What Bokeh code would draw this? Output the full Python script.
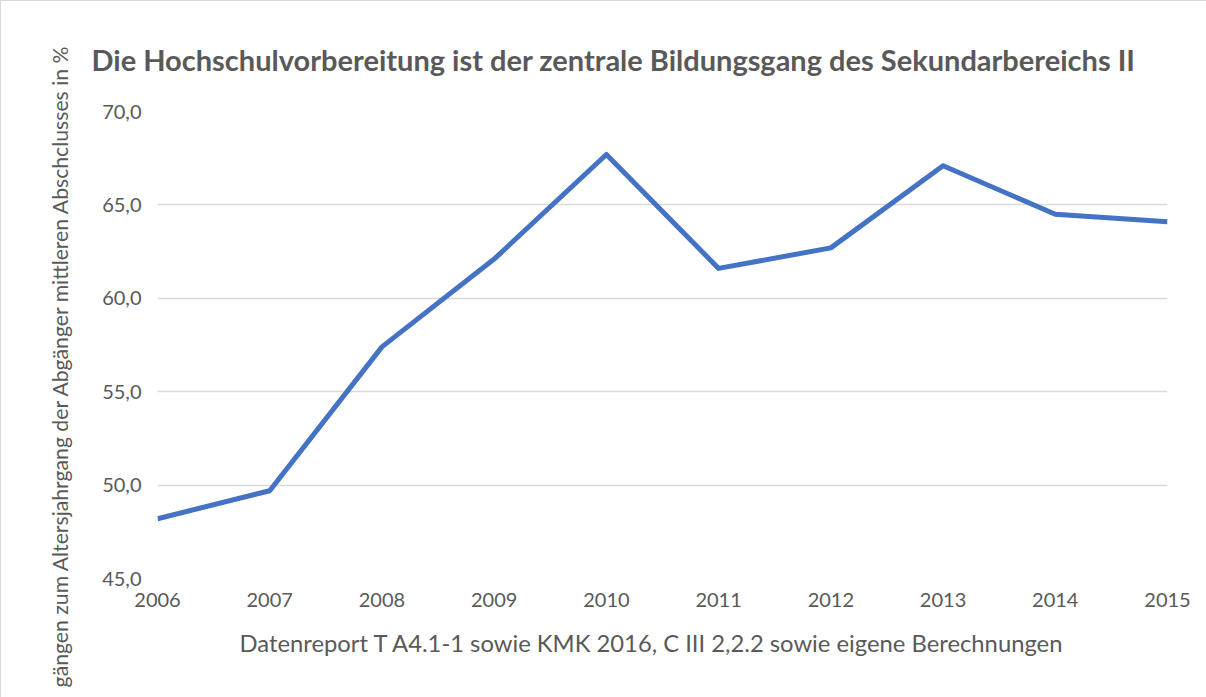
from bokeh.plotting import figure
from bokeh.models import Range1d, FixedTicker, CustomJSTickFormatter, Title
from bokeh.embed import file_html
from bokeh.resources import INLINE

years = [2006, 2007, 2008, 2009, 2010, 2011, 2012, 2013, 2014, 2015]
values = [48.2, 49.7, 57.4, 62.1, 67.7, 61.6, 62.7, 67.1, 64.5, 64.1]
y_ticks = [45, 50, 55, 60, 65, 70]

title_text = "Die Hochschulvorbereitung ist der zentrale Bildungsgang des Sekundarbereichs II"
x_label_text = "Datenreport T A4.1-1 sowie KMK 2016, C III 2,2.2 sowie eigene Berechnungen"
y_label_text = "gängen zum Altersjahrgang der Abgänger mittleren Abschclusses in %"

FONT = "Lato"
GREY = "#595959"

W, H = 1206, 697
p = figure(width=W, height=H, output_backend="svg", toolbar_location=None,
           x_range=Range1d(2006, 2015), y_range=Range1d(45, 70),
           min_border_left=156, min_border_right=W - 1166, min_border_top=110,
           min_border_bottom=H - 577, title=None)
p.styles = {"border-top": "1px solid #d9d9d9", "border-left": "1px solid #d9d9d9"}
p.outline_line_color = None
p.background_fill_color = "white"
p.border_fill_color = "white"

p.line(years, values, line_color="#4472C4", line_width=5, line_join="round", line_cap="butt")

for ax in (p.xaxis[0], p.yaxis[0]):
    ax.axis_line_color = None
    ax.major_tick_line_color = None
    ax.minor_tick_line_color = None
    ax.major_label_text_font = FONT
    ax.major_label_text_font_size = "20px"
    ax.major_label_text_color = GREY

p.xaxis.ticker = FixedTicker(ticks=years)
p.xaxis.major_label_standoff = 8
p.yaxis.ticker = FixedTicker(ticks=y_ticks)
p.yaxis.major_label_standoff = 10
p.yaxis.formatter = CustomJSTickFormatter(code="return tick.toFixed(1).replace('.', ',');")

p.xgrid.grid_line_color = None
p.ygrid.grid_line_color = "#d9d9d9"
p.ygrid.grid_line_width = 1.5

t = Title(text=title_text, align="left", offset=-66, standoff=70,
          text_font=FONT, text_font_size="29px", text_font_style="bold", text_color=GREY)
p.add_layout(t, "above")

xl = Title(text=x_label_text, align="left", offset=82, standoff=34,
           text_font=FONT, text_font_size="23.8px", text_font_style="normal", text_color=GREY)
p.add_layout(xl, "below")

yl = Title(text=y_label_text, align="right", offset=-68, standoff=53,
           text_font=FONT, text_font_size="21.2px", text_font_style="normal", text_color=GREY)
p.add_layout(yl, "left")

open("out.html", "w").write(file_html(p, INLINE))
